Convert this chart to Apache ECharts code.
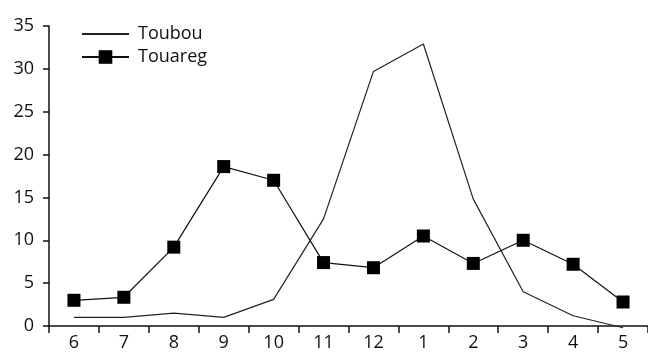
<!DOCTYPE html>
<html><head><meta charset="utf-8">
<script src="https://cdn.jsdelivr.net/npm/echarts@6/dist/echarts.min.js"></script>
<style>html,body{margin:0;padding:0;background:#fff}#c{width:648px;height:352px}</style>
</head><body><div id="c"></div>
<script>
const months = ['6','7','8','9','10','11','12','1','2','3','4','5'];
const toubou = [1.0, 1.0, 1.5, 1.0, 3.1, 12.5, 29.7, 32.9, 14.8, 4.0, 1.2, -0.2];
const touareg = [3.0, 3.35, 9.2, 18.6, 17.0, 7.4, 6.8, 10.5, 7.3, 10.0, 7.2, 2.8];
const yTicks = {min: 0, max: 35, interval: 5};

const font = 'Open Sans';
const chart = echarts.init(document.getElementById('c'));
chart.setOption({
  animation: false,
  backgroundColor: '#fff',
  grid: {left: 49, right: 0, top: 26, bottom: 22, containLabel: false},
  legend: {
    orient: 'vertical', left: 76, top: 20, itemWidth: 47, itemHeight: 17, itemGap: 5,
    textStyle: {fontFamily: font, fontSize: 18, color: '#111', padding: [0,0,0,4]},
    data: [{name: 'Toubou', itemStyle: {opacity: 0}}, 'Touareg']
  },
  xAxis: {
    type: 'category', data: months, boundaryGap: true,
    axisLine: {lineStyle: {color: '#111', width: 1.5}},
    axisTick: {show: true, length: 7, inside: false, lineStyle: {color: '#111', width: 1.5}},
    axisLabel: {fontFamily: font, fontSize: 18, color: '#111', margin: 8}
  },
  yAxis: {
    type: 'value', min: yTicks.min, max: yTicks.max, interval: yTicks.interval,
    splitLine: {show: false},
    axisLine: {show: true, lineStyle: {color: '#111', width: 1.5}},
    axisTick: {show: true, length: 6, lineStyle: {color: '#111', width: 1.5}},
    axisLabel: {fontFamily: font, fontSize: 18, color: '#111', margin: 15}
  },
  series: [
    {name: 'Toubou', type: 'line', data: toubou, symbol: 'none', clip: false,
     lineStyle: {color: '#222', width: 1.2}, itemStyle: {color: '#222'}},
    {name: 'Touareg', type: 'line', data: touareg, symbol: 'rect', symbolSize: 13,
     lineStyle: {color: '#111', width: 1.2}, itemStyle: {color: '#000'}}
  ]
});
</script></body></html>
